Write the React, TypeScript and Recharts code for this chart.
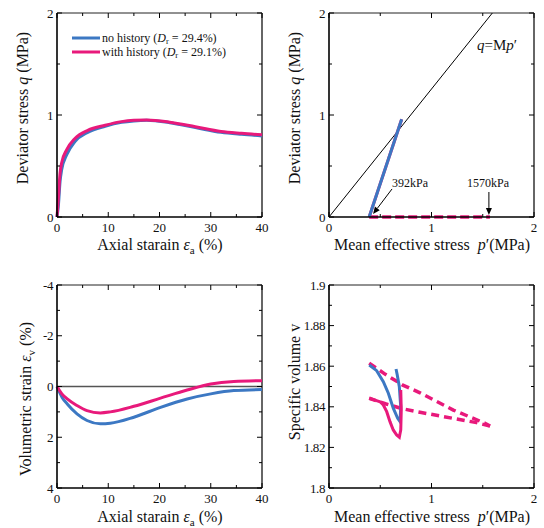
import React from "react";
import { ComposedChart, Line, XAxis, YAxis, ReferenceLine } from "recharts";

const FONT = '"Liberation Serif", "Times New Roman", serif';
const BLUE = "#3c78c3";
const PINK = "#e8197b";

// (a) deviator stress q vs axial strain
const axialA = [0, 0.25, 0.6, 0.9, 1.9, 3.5, 6, 9.4, 12.6, 15, 17.5, 22, 27, 32, 36, 40];
const qNoHist = [0, 0.1, 0.35, 0.46, 0.61, 0.74, 0.83, 0.89, 0.928, 0.942, 0.948, 0.925, 0.877, 0.83, 0.81, 0.795];
const qHist = [0, 0.17, 0.43, 0.53, 0.66, 0.77, 0.85, 0.9, 0.935, 0.948, 0.952, 0.93, 0.885, 0.838, 0.82, 0.806];

// (b) stress path
const pathP = [0.392, 0.709];
const pathQ = [0, 0.958];
const isoP = [0.392, 1.57];
const isoQ = [0, 0];
const M = 1.255;

// (c) volumetric strain vs axial strain
const axialC = [0, 1, 2, 3.9, 5.85, 8.45, 10.4, 15, 20.2, 25.4, 30, 34.5, 40];
const evNoHist = [0, 0.43, 0.69, 1.08, 1.34, 1.47, 1.45, 1.21, 0.82, 0.49, 0.29, 0.16, 0.12];
const evHist = [0, 0.3, 0.49, 0.75, 0.95, 1.04, 1.0, 0.78, 0.46, 0.14, -0.1, -0.2, -0.23];

// (d) specific volume vs p'
const vNoHistP = [0.393, 0.465, 0.53, 0.579, 0.627, 0.67, 0.693, 0.7, 0.686, 0.666, 0.654];
const vNoHistV = [1.8606, 1.8578, 1.8524, 1.8467, 1.8393, 1.8343, 1.8327, 1.84, 1.8499, 1.8557, 1.8586];
const vHistP = [0.393, 0.449, 0.498, 0.53, 0.563, 0.595, 0.627, 0.66, 0.686, 0.7, 0.705, 0.7];
const vHistV = [1.8442, 1.8433, 1.8425, 1.8409, 1.8376, 1.8327, 1.8286, 1.8261, 1.825, 1.8286, 1.8384, 1.8483];
const loadP = [0.392, 0.55, 0.72, 0.888, 1.213, 1.522, 1.571];
const loadV = [1.8615, 1.856, 1.8507, 1.8469, 1.8384, 1.8319, 1.8305];
const unloadP = [1.571, 1.44, 1.213, 0.888, 0.72, 0.55, 0.392];
const unloadV = [1.8305, 1.8322, 1.8343, 1.8373, 1.839, 1.8415, 1.8442];

// ticks
const strainTicks = [0, 5, 10, 15, 20, 25, 30, 35, 40];
const strainMajor = [0, 10, 20, 30, 40];
const strainLabels = ["0", "10", "20", "30", "40"];
const pTicks = [0, 0.5, 1, 1.5, 2];
const pMajor = [0, 1, 2];
const pLabels = ["0", "1", "2"];
const qTicks = [0, 0.5, 1, 1.5, 2];
const qMajor = [0, 1, 2];
const qLabels = ["0", "1", "2"];
const evTicks = [-4, -3, -2, -1, 0, 1, 2, 3, 4];
const evMajor = [-4, -2, 0, 2, 4];
const evLabels = ["-4", "-2", "0", "2", "4"];
const vTicks = [1.8, 1.81, 1.82, 1.83, 1.84, 1.85, 1.86, 1.87, 1.88, 1.89, 1.9];
const vMajor = [1.8, 1.82, 1.84, 1.86, 1.88, 1.9];
const vLabels = ["1.8", "1.82", "1.84", "1.86", "1.88", "1.9"];

const rows = (xs: number[], ys: number[]) => xs.map((x, i) => ({ x, y: ys[i] }));

const W = 272;
const H = 264;
const TICK_FONT = 13;

const findMajor = (major: number[], v: number) => major.findIndex((m) => Math.abs(m - v) < 1e-6);

const makeXTick = (major: number[], labels: string[], plotH: number) => (p: any) => {
  const i = findMajor(major, p.payload.value);
  const len = i >= 0 ? 5 : 3;
  return (
    <g>
      <line x1={p.x} x2={p.x} y1={p.y} y2={p.y - len} stroke="#000" strokeWidth={1} />
      <line x1={p.x} x2={p.x} y1={p.y - plotH} y2={p.y - plotH + len} stroke="#000" strokeWidth={1} />
      {i >= 0 && (
        <text x={p.x} y={p.y + 15} textAnchor="middle" fontSize={TICK_FONT} fontFamily={FONT} fill="#111">
          {labels[i]}
        </text>
      )}
    </g>
  );
};

const makeYTick = (major: number[], labels: string[], plotW: number) => (p: any) => {
  const i = findMajor(major, p.payload.value);
  const len = i >= 0 ? 5 : 3;
  return (
    <g>
      <line x1={p.x} x2={p.x + len} y1={p.y} y2={p.y} stroke="#000" strokeWidth={1} />
      <line x1={p.x + plotW} x2={p.x + plotW - len} y1={p.y} y2={p.y} stroke="#000" strokeWidth={1} />
      {i >= 0 && (
        <text
          x={p.x - 4}
          y={p.y + 4.5}
          textAnchor="end"
          fontSize={TICK_FONT}
          letterSpacing={-0.4}
          fontFamily={FONT}
          fill="#111"
        >
          {labels[i]}
        </text>
      )}
    </g>
  );
};

const Arrow = (props: any) => {
  const { x1, y1, x2, y2 } = props;
  const a = Math.atan2(y2 - y1, x2 - x1);
  const L = 7;
  const w = 3;
  const bx = x2 - L * Math.cos(a);
  const by = y2 - L * Math.sin(a);
  const pts = `${x2},${y2} ${bx + w * Math.sin(a)},${by - w * Math.cos(a)} ${bx - w * Math.sin(a)},${by + w * Math.cos(a)}`;
  return (
    <g>
      <line x1={x1} y1={y1} x2={bx} y2={by} stroke="#000" strokeWidth={1} />
      <polygon points={pts} fill="#000" />
    </g>
  );
};

type PanelProps = {
  left: number;
  top: number;
  mTop: number;
  mBottom: number;
  xDomain: [number, number];
  xTicks: number[];
  xMajor: number[];
  xLabels: string[];
  yDomain: [number, number];
  yTicks: number[];
  yMajor: number[];
  yLabels: string[];
  yReversed?: boolean;
  children: React.ReactNode;
};

function Panel(p: PanelProps) {
  // axes take 1px each, so plot area starts at x=57 and ends mBottom above the box bottom
  const margin = { top: p.mTop, right: 10, bottom: p.mBottom - 1, left: 56 };
  const plotW = W - 57 - 10;
  const plotH = H - p.mTop - p.mBottom;
  const yTop = p.yReversed ? p.yDomain[0] : p.yDomain[1];
  return (
    <div style={{ position: "absolute", left: p.left, top: p.top }}>
      <ComposedChart width={W} height={H} margin={margin}>
        <XAxis
          dataKey="x"
          type="number"
          domain={p.xDomain}
          ticks={p.xTicks}
          interval={0}
          height={1}
          tickSize={0}
          tickMargin={0}
          tickLine={false}
          axisLine={{ stroke: "#000", strokeWidth: 1.6 }}
          tick={makeXTick(p.xMajor, p.xLabels, plotH)}
        />
        <YAxis
          type="number"
          domain={p.yDomain}
          reversed={p.yReversed}
          ticks={p.yTicks}
          interval={0}
          width={1}
          tickSize={0}
          tickMargin={0}
          tickLine={false}
          axisLine={{ stroke: "#000", strokeWidth: 1.6 }}
          tick={makeYTick(p.yMajor, p.yLabels, plotW)}
        />
        <ReferenceLine y={yTop} stroke="#222" strokeWidth={1} />
        <ReferenceLine x={p.xDomain[1]} stroke="#666" strokeWidth={2} />
        {p.children}
      </ComposedChart>
    </div>
  );
}

const solid = (data: any[], color: string, type: "monotone" | "linear" = "monotone") => (
  <Line
    data={data}
    dataKey="y"
    type={type}
    stroke={color}
    strokeWidth={3}
    dot={false}
    isAnimationActive={false}
  />
);

const titleStyle = { fontFamily: FONT, fontSize: 16, fill: "#111" } as const;

function Strain({ x, y, sub }: { x: number; y: number; sub: string }) {
  return (
    <text x={x} y={y} textAnchor="middle" {...titleStyle}>
      Axial starain <tspan fontStyle="italic">ε</tspan>
      <tspan fontSize={11} dy={4}>{sub}</tspan>
      <tspan dy={-4}> (%)</tspan>
    </text>
  );
}

function MeanStress({ x, y }: { x: number; y: number }) {
  return (
    <text x={x} y={y} textAnchor="middle" {...titleStyle}>
      Mean effective stress{"\u00a0\u00a0"}
      <tspan fontStyle="italic">p</tspan>′(MPa)
    </text>
  );
}

export default function App() {
  return (
    <div style={{ position: "absolute", left: 0, top: 0, width: 544, height: 528, background: "#fff" }}>
      <Panel
        left={0}
        top={0}
        mTop={13}
        mBottom={47}
        xDomain={[0, 40]}
        xTicks={strainTicks}
        xMajor={strainMajor}
        xLabels={strainLabels}
        yDomain={[0, 2]}
        yTicks={qTicks}
        yMajor={qMajor}
        yLabels={qLabels}
      >
        {[
          <React.Fragment key="a1">{solid(rows(axialA, qNoHist), BLUE)}</React.Fragment>,
          <React.Fragment key="a2">{solid(rows(axialA, qHist), PINK)}</React.Fragment>,
        ]}
      </Panel>

      <Panel
        left={272}
        top={0}
        mTop={13}
        mBottom={47}
        xDomain={[0, 2]}
        xTicks={pTicks}
        xMajor={pMajor}
        xLabels={pLabels}
        yDomain={[0, 2]}
        yTicks={qTicks}
        yMajor={qMajor}
        yLabels={qLabels}
      >
        {[
          <ReferenceLine
            key="cs"
            segment={[
              { x: 0, y: 0 },
              { x: 2 / M, y: 2 },
            ]}
            stroke="#000"
            strokeWidth={1}
          />,
          <Line
            key="iso"
            data={rows(isoP, isoQ)}
            dataKey="y"
            type="linear"
            stroke={PINK}
            strokeWidth={3.5}
            strokeDasharray="9 4"
            dot={false}
            isAnimationActive={false}
          />,
          <React.Fragment key="b1">{solid(rows(pathP, pathQ), PINK, "linear")}</React.Fragment>,
          <React.Fragment key="b2">{solid(rows(pathP, pathQ), BLUE, "linear")}</React.Fragment>,
          <ReferenceLine
            key="ar1"
            segment={[
              { x: 0.615, y: 0.275 },
              { x: 0.43, y: 0.03 },
            ]}
            shape={Arrow}
          />,
          <ReferenceLine
            key="ar2"
            segment={[
              { x: 1.56, y: 0.245 },
              { x: 1.56, y: 0.02 },
            ]}
            shape={Arrow}
          />,
        ]}
      </Panel>

      <Panel
        left={0}
        top={264}
        mTop={21}
        mBottom={40}
        xDomain={[0, 40]}
        xTicks={strainTicks}
        xMajor={strainMajor}
        xLabels={strainLabels}
        yDomain={[-4, 4]}
        yReversed
        yTicks={evTicks}
        yMajor={evMajor}
        yLabels={evLabels}
      >
        {[
          <ReferenceLine key="zero" y={0} stroke="#555" strokeWidth={1.3} />,
          <React.Fragment key="c1">{solid(rows(axialC, evNoHist), BLUE)}</React.Fragment>,
          <React.Fragment key="c2">{solid(rows(axialC, evHist), PINK)}</React.Fragment>,
        ]}
      </Panel>

      <Panel
        left={272}
        top={264}
        mTop={21}
        mBottom={40}
        xDomain={[0, 2]}
        xTicks={pTicks}
        xMajor={pMajor}
        xLabels={pLabels}
        yDomain={[1.8, 1.9]}
        yTicks={vTicks}
        yMajor={vMajor}
        yLabels={vLabels}
      >
        {[
          <Line
            key="load"
            data={rows(loadP, loadV)}
            dataKey="y"
            type="linear"
            stroke={PINK}
            strokeWidth={3.5}
            strokeDasharray="8 5"
            dot={false}
            isAnimationActive={false}
          />,
          <Line
            key="unload"
            data={rows(unloadP, unloadV)}
            dataKey="y"
            type="linear"
            stroke={PINK}
            strokeWidth={3.5}
            strokeDasharray="8 5"
            dot={false}
            isAnimationActive={false}
          />,
          <React.Fragment key="d1">{solid(rows(vNoHistP, vNoHistV), BLUE, "linear")}</React.Fragment>,
          <React.Fragment key="d2">{solid(rows(vHistP, vHistV), PINK, "linear")}</React.Fragment>,
        ]}
      </Panel>

      <svg width={544} height={528} style={{ position: "absolute", left: 0, top: 0, pointerEvents: "none" }}>
        {/* axis titles */}
        <Strain x={160} y={250} sub="a" />
        <MeanStress x={432} y={250} />
        <Strain x={160} y={522} sub="a" />
        <MeanStress x={432} y={522} />
        <text transform="translate(28,108) rotate(-90)" textAnchor="middle" {...titleStyle}>
          Deviator stress <tspan fontStyle="italic">q</tspan> (MPa)
        </text>
        <text transform="translate(300,108) rotate(-90)" textAnchor="middle" {...titleStyle}>
          Deviator stress <tspan fontStyle="italic">q</tspan> (MPa)
        </text>
        <text transform="translate(31,399) rotate(-90)" textAnchor="middle" {...titleStyle}>
          Volumetric strain <tspan fontStyle="italic">ε</tspan>
          <tspan fontSize={11} dy={4}>v</tspan>
          <tspan dy={-4}> (%)</tspan>
        </text>
        <text transform="translate(300,382) rotate(-90)" textAnchor="middle" {...titleStyle}>
          Specific volume v
        </text>

        {/* legend */}
        <line x1={72} x2={100} y1={38} y2={38} stroke={BLUE} strokeWidth={3} />
        <line x1={72} x2={100} y1={52} y2={52} stroke={PINK} strokeWidth={3} />
        <text x={102} y={42} fontFamily={FONT} fontSize={12} fill="#111">
          no history (<tspan fontStyle="italic">D</tspan>
          <tspan fontSize={8.5} dy={2}>r</tspan>
          <tspan dy={-2}> = 29.4%)</tspan>
        </text>
        <text x={102} y={56} fontFamily={FONT} fontSize={12} fill="#111">
          with history (<tspan fontStyle="italic">D</tspan>
          <tspan fontSize={8.5} dy={2}>r</tspan>
          <tspan dy={-2}> = 29.1%)</tspan>
        </text>

        {/* annotations */}
        <text x={477} y={50} fontFamily={FONT} fontSize={15} fill="#111">
          <tspan fontStyle="italic">q</tspan>=M<tspan fontStyle="italic">p</tspan>′
        </text>
        <text x={392} y={187} fontFamily={FONT} fontSize={12} fill="#111">
          392kPa
        </text>
        <text x={467} y={187} fontFamily={FONT} fontSize={12} fill="#111">
          1570kPa
        </text>
      </svg>
    </div>
  );
}
